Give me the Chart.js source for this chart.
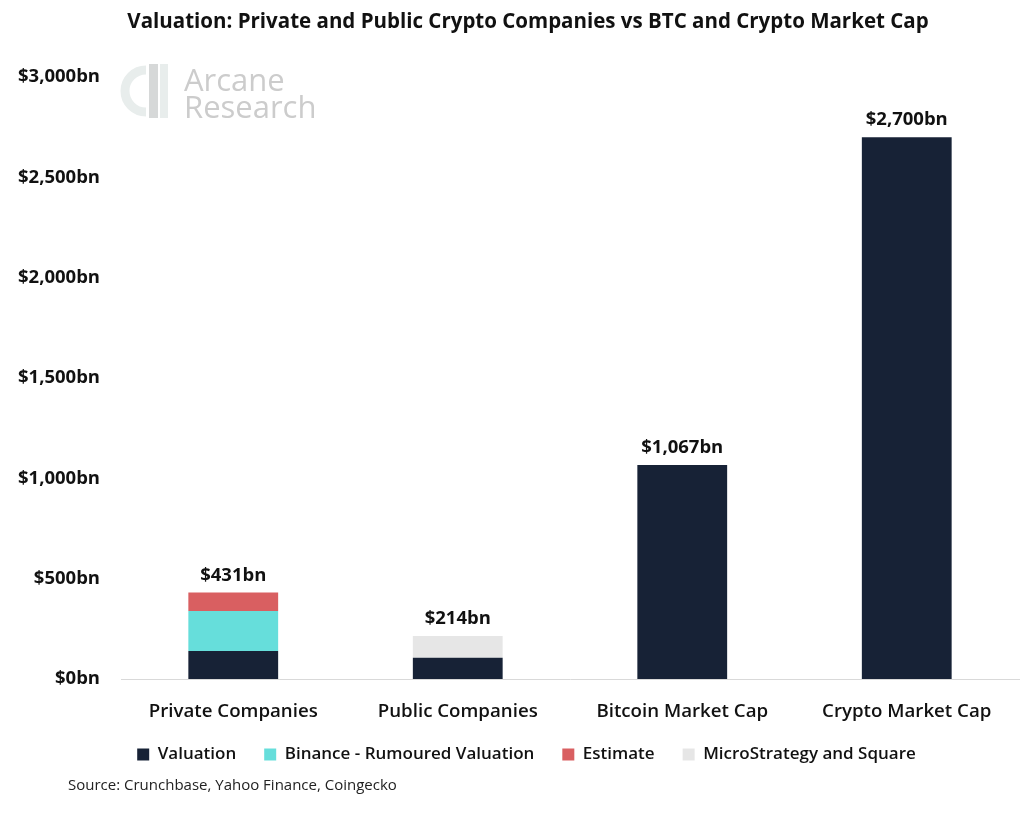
<!DOCTYPE html>
<html>
<head>
<meta charset="utf-8">
<script src="https://cdn.jsdelivr.net/npm/chart.js@4"></script>
<style>
  html, body { margin: 0; padding: 0; background: #fff; }
  #wrap { width: 1024px; height: 826px; }
</style>
</head>
<body>
<div id="wrap"><canvas id="grafico"></canvas></div>
<script>
const categorias = ['Private Companies', 'Public Companies', 'Bitcoin Market Cap', 'Crypto Market Cap'];
const valuation = [140, 106, 1067, 2700];
const binance = [199, 0, 0, 0];
const estimate = [92, 0, 0, 0];
const microstrategy = [0, 108, 0, 0];
const totales = [431, 214, 1067, 2700];

const FUENTE = '"Open Sans", "Noto Sans", sans-serif';
const TITULO = 'Valuation: Private and Public Crypto Companies vs BTC and Crypto Market Cap';

function formatoBn(v) {
    return '$' + Number(v).toLocaleString('en-US') + 'bn';
}

// Etiquetas de totales encima de cada barra
const etiquetasTotales = {
    id: 'etiquetasTotales',
    afterDatasetsDraw(chart) {
        const ctx = chart.ctx;
        const y = chart.scales.y;
        const x = chart.scales.x;
        ctx.save();
        ctx.font = 'bold 18.5px ' + FUENTE;
        ctx.fillStyle = '#111';
        ctx.textAlign = 'center';
        ctx.textBaseline = 'middle';
        totales.forEach((t, i) => {
            ctx.fillText(formatoBn(t), x.getPixelForValue(i), y.getPixelForValue(t) - 17);
        });
        ctx.restore();
    }
};

// Titulo, marca de agua y fuente de datos
const decoracion = {
    id: 'decoracion',
    afterLayout(chart) {
        // mover la leyenda un poco, como en el original
        const l = chart.legend;
        l.left += 17; l.right += 17;
        l.top -= 11; l.bottom -= 11;
    },
    beforeDatasetsDraw(chart) {
        const ctx = chart.ctx;
        ctx.save();
        // icono
        ctx.strokeStyle = '#e8edec';
        ctx.lineWidth = 9;
        ctx.beginPath();
        ctx.arc(146, 91, 21, Math.PI * 0.5, Math.PI * 1.5);
        ctx.stroke();
        ctx.fillStyle = '#d6d8d8';
        ctx.fillRect(149, 64, 9, 54);
        ctx.fillStyle = '#e8edec';
        ctx.fillRect(160, 64, 8, 54);
        // texto
        ctx.fillStyle = '#cccccc';
        ctx.font = '31px ' + FUENTE;
        ctx.textBaseline = 'alphabetic';
        ctx.fillText('Arcane', 184, 91);
        ctx.fillText('Research', 184, 118);
        ctx.restore();
    },
    afterDraw(chart) {
        const ctx = chart.ctx;
        ctx.save();
        ctx.fillStyle = '#111';
        ctx.font = 'bold 20.5px ' + FUENTE;
        ctx.textAlign = 'center';
        ctx.textBaseline = 'middle';
        ctx.fillText(TITULO, 528, 22);
        ctx.fillStyle = '#222';
        ctx.font = '15px ' + FUENTE;
        ctx.textAlign = 'left';
        ctx.fillText('Source: Crunchbase, Yahoo Finance, Coingecko', 68, 786);
        ctx.restore();
    }
};

new Chart(document.getElementById('grafico'), {
    type: 'bar',
    data: {
        labels: categorias,
        datasets: [
            { label: 'Valuation', data: valuation, backgroundColor: '#172236' },
            { label: 'Binance - Rumoured Valuation', data: binance, backgroundColor: '#66dedb' },
            { label: 'Estimate', data: estimate, backgroundColor: '#d95f61' },
            { label: 'MicroStrategy and Square', data: microstrategy, backgroundColor: '#e6e6e6' }
        ]
    },
    options: {
        responsive: true,
        maintainAspectRatio: false,
        animation: false,
        datasets: { bar: { barPercentage: 0.4, categoryPercentage: 1.0 } },
        layout: { padding: { left: 0, right: 5, top: 77, bottom: 42 } },
        scales: {
            x: {
                stacked: true,
                grid: { display: false },
                border: { color: '#d9d9d9', width: 1 },
                ticks: { color: '#111', font: { family: FUENTE, size: 18.7, weight: '600' }, padding: 13 },
                afterFit(s) { s.height = 50; }
            },
            y: {
                stacked: true,
                min: 0,
                max: 3000,
                grid: { display: false },
                border: { display: false },
                ticks: {
                    stepSize: 500,
                    color: '#111',
                    padding: 13,
                    font: { family: FUENTE, size: 18.5, weight: 'bold' },
                    callback: v => formatoBn(v)
                },
                afterFit(s) { s.width = 121; }
            }
        },
        plugins: {
            title: { display: false },
            legend: {
                position: 'bottom',
                labels: {
                    color: '#111',
                    font: { family: FUENTE, size: 17, weight: '600' },
                    boxWidth: 12,
                    boxHeight: 12,
                    padding: 28
                }
            },
            tooltip: { enabled: false }
        }
    },
    plugins: [etiquetasTotales, decoracion]
});
</script>
</body>
</html>
